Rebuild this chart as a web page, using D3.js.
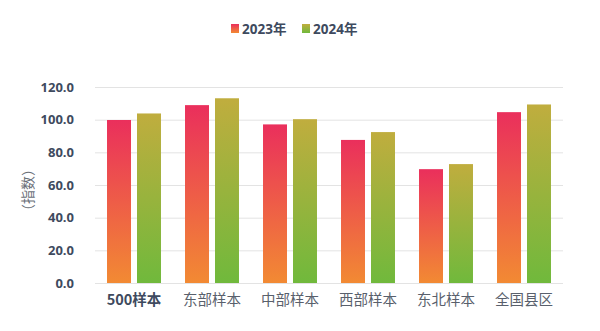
<!DOCTYPE html>
<html><head><meta charset="utf-8">
<script src="https://cdn.jsdelivr.net/npm/d3@7"></script>
<style>body{margin:0;background:#fff}svg{display:block}</style>
</head><body>
<script>
const categories = ["500样本","东部样本","中部样本","西部样本","东北样本","全国县区"];
const series2023 = [99.8,108.9,97.1,87.6,69.7,104.6];
const series2024 = [103.8,113.1,100.3,92.4,72.8,109.3];
const seriesNames = ["2023年","2024年"];
const yTicks = [0,20,40,60,80,100,120];

const W=600,H=331;
const m={left:95,right:37,top:87,bottom:48};
const svg=d3.select("body").append("svg").attr("width",W).attr("height",H);
const defs=svg.append("defs");
function grad(id,top,bottom){
  const g=defs.append("linearGradient").attr("id",id).attr("x1",0).attr("y1",0).attr("x2",0).attr("y2",1);
  g.append("stop").attr("offset","0%").attr("stop-color",top);
  g.append("stop").attr("offset","100%").attr("stop-color",bottom);
}
grad("g0","#ea2f5c","#f28a33");
grad("g1","#c0ad3e","#70b93c");

const x=d3.scaleBand().domain(categories).range([m.left,W-m.right]).paddingInner(0).paddingOuter(0);
const y=d3.scaleLinear().domain([0,120]).range([H-m.bottom,m.top]);
const bw=x.bandwidth();
const x1=d3.scaleBand().domain([0,1]).range([bw*0.154,bw*0.846]).paddingInner(0.2).paddingOuter(0);

// grid
svg.append("g").selectAll("line").data(yTicks).join("line")
  .attr("x1",m.left).attr("x2",W-m.right)
  .attr("y1",d=>y(d)+0.5).attr("y2",d=>y(d)+0.5)
  .attr("stroke","#e3e3e3").attr("stroke-width",1);

const yAxis=svg.append("g").attr("transform",`translate(${m.left-18},0)`)
  .call(d3.axisLeft(y).tickValues(yTicks).tickFormat(d3.format(".1f")).tickSize(0));
yAxis.select(".domain").remove();
yAxis.selectAll("text").attr("font-family","'Open Sans','Noto Sans',sans-serif").attr("font-weight","bold")
  .attr("font-size",13).attr("fill","#3e4a5e").attr("dx",0);

const data=[series2023,series2024];
categories.forEach((c,i)=>{
  data.forEach((s,j)=>{
    svg.append("rect").attr("x",x(c)+x1(j)).attr("width",x1.bandwidth())
      .attr("y",y(s[i])).attr("height",y(0)-y(s[i])).attr("fill",`url(#g${j})`);
  });
});

const xAxis=svg.append("g").attr("transform",`translate(0,${H-m.bottom})`)
  .call(d3.axisBottom(x).tickSize(0).tickPadding(12));
xAxis.select(".domain").remove();
xAxis.selectAll("text").attr("font-family","'Noto Sans CJK SC',sans-serif").attr("font-size",14.5)
  .attr("fill",(d,i)=>i===0?"#3e4a5e":"#59606c").attr("font-weight",(d,i)=>i===0?"bold":"normal");

svg.append("text").attr("transform","translate(28,190) rotate(-90)").attr("text-anchor","middle")
  .attr("dy","0.35em")
  .attr("font-family","'Noto Sans CJK SC',sans-serif").attr("font-size",14).attr("fill","#6a6f78")
  .text("（指数）");

const lg=svg.append("g");
const legendX=[231,302];
seriesNames.forEach((n,j)=>{
  lg.append("rect").attr("x",legendX[j]).attr("y",24).attr("width",8).attr("height",9).attr("fill",`url(#g${j})`);
  lg.append("text").attr("x",legendX[j]+11).attr("y",34).attr("font-family","'Open Sans','Noto Sans CJK SC',sans-serif")
    .attr("font-weight","bold").attr("font-size",13.5).attr("fill","#3e4a5e").text(n);
});
</script>
</body></html>
